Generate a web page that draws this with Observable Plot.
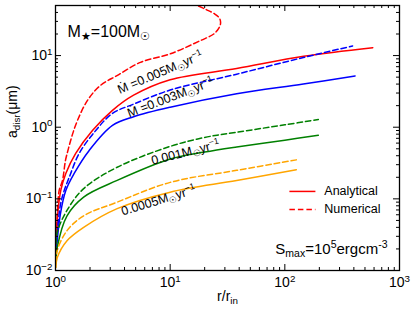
<!DOCTYPE html>
<html><head><meta charset="utf-8">
<script src="https://cdn.jsdelivr.net/npm/d3@7"></script>
<script src="https://cdn.jsdelivr.net/npm/@observablehq/plot@0.6"></script>
<style>body{margin:0;background:#fff} #chart svg{display:block}</style>
</head><body><div id="chart"></div>
<script>
// ---- data (r/r_in, a_disr in µm) ----
const red_an_r = [1.015, 1.04, 1.112, 1.23, 1.5, 2.1, 3.14, 4.8, 10, 38, 146, 585];
const red_an_a = [0.02, 0.055, 0.131, 0.226, 0.431, 0.9, 1.72, 2.8, 4.6, 6.6, 9.8, 12.9];
const red_nu_r = [1.02, 1.041, 1.077, 1.151, 1.222, 1.298, 1.406, 1.556, 1.901, 2.469, 3.47, 5.5, 10.06, 18.4, 24, 26.5, 27.5, 27, 24.5, 20.5, 17.3];
const red_nu_a = [0.03, 0.069, 0.131, 0.181, 0.344, 0.506, 0.794, 1.245, 2.37, 3.84, 5.29, 8.04, 10.6, 16.2, 20, 24, 28, 33, 38, 44, 50];
const blue_an_r = [1.02, 1.1, 1.23, 1.455, 1.967, 3.14, 4.8, 10, 38, 145, 410];
const blue_an_a = [0.02, 0.06, 0.131, 0.226, 0.474, 1.06, 1.4, 1.9, 2.93, 4.0, 5.2];
const blue_nu_r = [1.02, 1.1, 1.191, 1.316, 1.609, 2.245, 3.14, 4.8, 10, 38, 145, 390];
const blue_nu_a = [0.025, 0.08, 0.131, 0.199, 0.431, 0.9, 1.56, 2.1, 3.3, 5.5, 9.4, 13.6];
const green_an_r = [1.01, 1.035, 1.26, 1.76, 3.45, 10, 20, 38, 100, 196];
const green_an_a = [0.014, 0.021, 0.058, 0.106, 0.181, 0.36, 0.45, 0.53, 0.66, 0.77];
const green_nu_r = [1.01, 1.035, 1.26, 1.76, 3.45, 10, 20, 38, 100, 196];
const green_nu_a = [0.018, 0.034, 0.069, 0.139, 0.276, 0.54, 0.72, 0.85, 1.08, 1.28];
const orange_an_r = [1.01, 1.035, 1.26, 1.76, 3.45, 10, 38, 126];
const orange_an_a = [0.011, 0.015, 0.026, 0.04, 0.073, 0.124, 0.18, 0.255];
const orange_nu_r = [1.01, 1.035, 1.26, 1.76, 3.45, 10, 38, 126];
const orange_nu_a = [0.013, 0.019, 0.036, 0.058, 0.09, 0.17, 0.25, 0.35];

// curve labels: text, anchor (r, a), rotation
const rate_labels = ["Ṁ =0.005M_{☉}yr^{−1}", "Ṁ =0.003M_{☉}yr^{−1}", "0.001M_{☉}yr^{−1}", "0.0005M_{☉}yr^{−1}"];
const rate_label_r = [8.2, 10.06, 13.6, 7.9];
const rate_label_a = [5.8, 2.6, 0.445, 0.095];
const rate_label_rot = [-23, -21, -14, -17];

// tick values
const x_major = [1, 10, 100, 1000];
const y_major = [0.01, 0.1, 1, 10];
const x_minor = [1, 10, 100].flatMap(d => [2,3,4,5,6,7,8,9].map(k => k * d));
const y_minor = [0.01, 0.1, 1, 10].flatMap(d => [2,3,4,5,6,7,8,9].map(k => k * d)).filter(v => v <= 50);

const legend_labels = ["Analytical", "Numerical"];

// ---- build ----
const DASH = "5.5,3";
const series = [
  {r: red_an_r, a: red_an_a, color: "#ff0000", dash: null},
  {r: red_nu_r, a: red_nu_a, color: "#ff0000", dash: DASH},
  {r: blue_an_r, a: blue_an_a, color: "#0000ff", dash: null},
  {r: blue_nu_r, a: blue_nu_a, color: "#0000ff", dash: DASH},
  {r: green_an_r, a: green_an_a, color: "#008000", dash: null},
  {r: green_nu_r, a: green_nu_a, color: "#008000", dash: DASH},
  {r: orange_an_r, a: orange_an_a, color: "#ffa500", dash: null},
  {r: orange_nu_r, a: orange_nu_a, color: "#ffa500", dash: DASH}
];
const rows = s => s.r.map((r, i) => ({r, a: s.a[i]}));
const labelRows = rate_labels.map((t, i) => ({t, r: rate_label_r[i], a: rate_label_a[i], rot: rate_label_rot[i]}));

// legend layout (in data space of the axes)
const legendY = [0.127, 0.0711];
const legendRows = legend_labels.map((t, i) => ({t, a: legendY[i]}));

const W = 415, H = 313, mL = 55, mR = 16, mT = 5, mB = 43;
const fw = W - mL - mR, fh = H - mT - mB;
const fmt = d => `10^{${String(Math.round(Math.log10(d))).replace("-", "−")}}`;

const marks = [];
series.forEach(s => marks.push(Plot.line(rows(s), {x: "r", y: "a", stroke: s.color, strokeWidth: 1.5, strokeDasharray: s.dash, curve: "catmull-rom", clip: true})));
// inward ticks on all four sides
marks.push(Plot.tickX(x_major, {x: d => d, insetTop: fh - 6, stroke: "black"}));
marks.push(Plot.tickX(x_major, {x: d => d, insetBottom: fh - 6, stroke: "black"}));
marks.push(Plot.tickX(x_minor, {x: d => d, insetTop: fh - 3, stroke: "black"}));
marks.push(Plot.tickX(x_minor, {x: d => d, insetBottom: fh - 3, stroke: "black"}));
marks.push(Plot.tickY(y_major, {y: d => d, insetRight: fw - 6, stroke: "black"}));
marks.push(Plot.tickY(y_major, {y: d => d, insetLeft: fw - 6, stroke: "black"}));
marks.push(Plot.tickY(y_minor, {y: d => d, insetRight: fw - 3, stroke: "black"}));
marks.push(Plot.tickY(y_minor, {y: d => d, insetLeft: fw - 3, stroke: "black"}));
marks.push(Plot.axisX({ticks: x_major, tickSize: 0, tickPadding: 7, tickFormat: fmt, fontSize: 14, label: null}));
marks.push(Plot.axisY({ticks: y_major, tickSize: 0, tickPadding: 3, tickFormat: fmt, fontSize: 14, label: null}));
marks.push(Plot.frame({stroke: "black", strokeWidth: 1.3}));
// curve labels
marks.push(Plot.text(labelRows, {x: "r", y: "a", text: "t", rotate: "rot", fontSize: 12.5, fill: "black"}));
// legend
marks.push(Plot.link([legendRows[0]], {x1: 109.6, x2: 184.8, y1: "a", y2: "a", stroke: "#ff0000", strokeWidth: 1.5}));
marks.push(Plot.link([legendRows[1]], {x1: 109.6, x2: 184.8, y1: "a", y2: "a", stroke: "#ff0000", strokeWidth: 1.5, strokeDasharray: DASH}));
marks.push(Plot.text(legendRows, {x: 221, y: "a", text: "t", textAnchor: "start", fontSize: 12.5, fill: "black"}));
// annotations
marks.push(Plot.text(["M_{★}=100M_{☉}"], {frameAnchor: "top-left", dx: 12, dy: 20, textAnchor: "start", fontSize: 16, fill: "black"}));
marks.push(Plot.text(["S_{max}=10^{5}ergcm^{-3}"], {frameAnchor: "bottom-right", dx: -12, dy: -17, textAnchor: "end", fontSize: 15, fill: "black"}));
// axis titles
marks.push(Plot.text(["r/r_{in}"], {frameAnchor: "bottom", dy: 30, fontSize: 14, fill: "black"}));
marks.push(Plot.text(["a_{disr}(μm)"], {frameAnchor: "left", dx: -43, rotate: -90, fontSize: 14, fill: "black"}));

const chart = Plot.plot({
  width: W, height: H,
  marginLeft: mL, marginRight: mR, marginTop: mT, marginBottom: mB,
  style: {fontFamily: "'Liberation Sans', Arial, sans-serif", background: "white", color: "black"},
  x: {type: "log", domain: [1, 1000]},
  y: {type: "log", domain: [0.01, 50]},
  marks
});
document.getElementById("chart").appendChild(chart);

// render _{..} as subscript and ^{..} as superscript
const NS = "http://www.w3.org/2000/svg";
chart.querySelectorAll("text").forEach(t => {
  const nodes = t.querySelectorAll("tspan").length ? [...t.querySelectorAll("tspan")] : [t];
  nodes.forEach(node => {
    const s = node.textContent;
    if (!/[_^]\{/.test(s)) return;
    const fs = parseFloat(getComputedStyle(node).fontSize) || 14;
    node.textContent = "";
    const parts = [];
    const re = /([_^])\{([^}]*)\}/g; let last = 0, m;
    while ((m = re.exec(s))) {
      if (m.index > last) parts.push({txt: s.slice(last, m.index), off: 0});
      parts.push({txt: m[2], off: m[1] === "^" ? -0.38 * fs : 0.22 * fs, small: true});
      last = re.lastIndex;
    }
    if (last < s.length) parts.push({txt: s.slice(last), off: 0});
    let cur = 0;
    parts.forEach(p => {
      const ts = document.createElementNS(NS, "tspan");
      ts.textContent = p.txt;
      if (p.off !== cur) ts.setAttribute("dy", p.off - cur);
      if (p.small) ts.setAttribute("font-size", (0.7 * fs).toFixed(1));
      cur = p.off;
      node.appendChild(ts);
    });
  });
});
</script></body></html>
